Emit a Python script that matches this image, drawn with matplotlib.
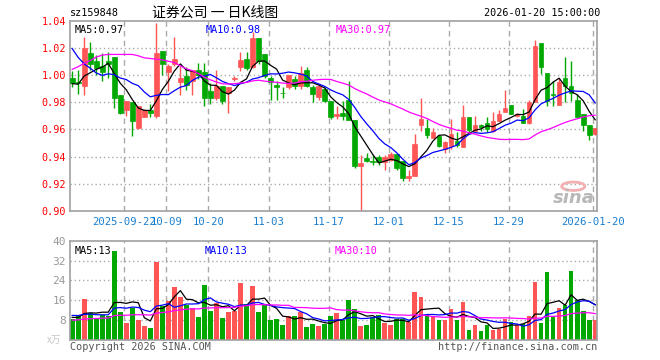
import pandas as pd
import matplotlib
matplotlib.use("Agg")
import matplotlib.pyplot as plt
from matplotlib.patches import Rectangle, Circle

# closes / volumes before the visible window, only used to seed the moving averages
prior_close = [0.934, 0.945, 0.948, 0.930, 0.957, 0.993, 0.983, 0.972, 0.981, 0.966,
               1.007, 1.019, 0.987, 1.031, 1.023, 1.037, 1.042, 1.073, 1.053, 1.049,
               1.060, 1.067, 1.040, 1.040, 1.020, 0.996, 0.990, 0.996, 0.9925]
prior_volume = [6.5, 7.0, 6.2, 5.8, 6.8, 7.5, 6.9, 7.2, 6.4, 7.8,
                7.1, 6.6, 8.2, 7.4, 6.9, 7.7, 7.0, 7.3, 6.8, 7.9,
                10.2, 11.5, 10.4, 11.0, 10.4, 9.8, 8.6, 9.5, 9.3]

opens = [0.998, 0.995, 0.992, 1.016, 1.010, 1.007, 1.010, 1.013, 0.985, 0.974,
         0.980, 0.961, 0.969, 0.974, 0.970, 1.018, 1.002, 1.008, 0.995, 0.999,
         0.996, 1.004, 1.002, 0.988, 0.983, 0.992, 0.9866, 0.997, 1.006, 1.012,
         1.006, 1.027, 1.0155, 0.998, 0.993, 0.987, 0.991, 0.997, 0.992, 1.004,
         0.991, 0.9835, 0.9895, 0.981, 0.970, 0.972, 0.982, 0.967, 0.933, 0.939,
         0.9365, 0.940, 0.936, 0.9375, 0.942, 0.937, 0.924, 0.926, 0.963, 0.961,
         0.9535, 0.9555, 0.9455, 0.948, 0.9515, 0.947, 0.9695, 0.9585, 0.963, 0.9645,
         0.9585, 0.966, 0.9725, 0.978, 0.970, 0.970, 0.9645, 0.980, 1.0235, 1.0017,
         0.986, 0.978, 0.998, 0.992, 0.982, 0.971, 0.963, 0.9565]
highs = [1.003, 1.004, 1.028, 1.024, 1.015, 1.016, 1.017, 1.013, 0.985, 0.981,
         0.980, 0.977, 0.975, 0.9785, 1.038, 1.018, 1.008, 1.028, 1.007, 1.006,
         1.004, 1.009, 1.009, 0.994, 1.004, 0.992, 0.991, 0.999, 1.017, 1.017,
         1.0315, 1.027, 1.0155, 0.999, 0.9955, 0.991, 1.000, 0.999, 1.007, 1.006,
         0.993, 0.993, 0.991, 0.981, 0.977, 0.981, 0.996, 0.967, 0.941, 0.943,
         0.941, 0.941, 0.941, 0.9435, 0.942, 0.937, 0.930, 0.9565, 0.983, 0.9675,
         0.961, 0.956, 0.9515, 0.9675, 0.958, 0.978, 0.9695, 0.970, 0.964, 0.969,
         0.973, 0.974, 0.989, 0.978, 0.972, 0.975, 0.982, 1.0255, 1.0235, 1.0017,
         0.996, 0.998, 1.0135, 1.010, 0.986, 0.971, 0.963, 0.961]
lows = [0.991, 0.986, 0.985, 1.004, 1.000, 0.996, 0.998, 0.976, 0.971, 0.970,
        0.955, 0.960, 0.969, 0.969, 0.9685, 1.000, 0.988, 1.007, 0.985, 0.989,
        0.985, 0.997, 0.977, 0.979, 0.982, 0.979, 0.972, 0.9955, 1.003, 1.004,
        1.005, 1.008, 0.998, 0.982, 0.982, 0.983, 0.9895, 0.9895, 0.9895, 0.991,
        0.980, 0.982, 0.980, 0.968, 0.968, 0.967, 0.967, 0.932, 0.900, 0.936,
        0.934, 0.934, 0.930, 0.937, 0.930, 0.922, 0.922, 0.926, 0.959, 0.9535,
        0.9535, 0.947, 0.943, 0.9455, 0.947, 0.947, 0.958, 0.958, 0.959, 0.958,
        0.958, 0.966, 0.9725, 0.971, 0.9695, 0.9645, 0.964, 0.980, 1.0005, 0.977,
        0.977, 0.978, 0.980, 0.981, 0.969, 0.959, 0.9525, 0.956]
closes = [0.994, 0.994, 1.020, 1.008, 1.005, 1.002, 1.008, 0.983, 0.972, 0.981,
          0.966, 0.977, 0.974, 0.972, 1.016, 1.008, 1.007, 1.012, 0.998, 0.993,
          1.004, 1.000, 0.983, 0.983, 0.992, 0.981, 0.991, 0.998, 1.011, 1.005,
          1.027, 1.010, 0.999, 0.995, 0.991, 0.9865, 1.000, 0.992, 1.0015, 0.992,
          0.986, 0.992, 0.981, 0.969, 0.971, 0.970, 0.967, 0.933, 0.935, 0.937,
          0.936, 0.936, 0.9395, 0.942, 0.932, 0.924, 0.926, 0.9495, 0.9675, 0.956,
          0.958, 0.9475, 0.951, 0.9565, 0.9485, 0.9695, 0.9595, 0.963, 0.9615, 0.960,
          0.966, 0.971, 0.9755, 0.9715, 0.9715, 0.965, 0.9805, 1.0215, 1.006, 0.981,
          0.985, 0.995, 0.992, 0.9865, 0.969, 0.963, 0.956, 0.961]
volumes = [8.3, 9.7, 16.5, 11.0, 8.7, 10.1, 9.7, 35.8, 11.4, 6.8,
           13.0, 8.1, 5.6, 4.8, 31.4, 13.8, 15.7, 21.3, 17.3, 14.1,
           12.9, 9.3, 22.1, 11.7, 15.0, 8.9, 11.4, 11.8, 22.9, 14.5,
           21.7, 11.4, 14.0, 8.2, 8.5, 6.0, 9.7, 9.7, 11.1, 5.2,
           6.4, 5.8, 6.4, 9.7, 10.7, 8.0, 16.3, 12.3, 5.5, 5.9,
           9.2, 9.9, 6.7, 5.9, 8.5, 8.5, 7.2, 19.2, 17.5, 9.9,
           9.6, 8.0, 8.0, 12.3, 8.0, 15.2, 3.9, 5.9, 3.5, 6.0,
           4.0, 4.5, 8.5, 7.2, 5.9, 6.5, 9.6, 23.2, 6.7, 27.2,
           9.3, 12.7, 14.3, 27.6, 16.0, 11.6, 8.0, 8.0]

tick_idx = [9, 16, 23, 33, 43, 53, 63, 73, 87]
tick_labels = ["2025-09-22", "10-09", "10-20", "11-03", "11-17",
               "12-01", "12-15", "12-29", "2026-01-20"]

RED = "#ff5555"
GREEN = "#00a800"
GRID = "#aaaaaa"
MONO = "DejaVu Sans Mono"

n = len(closes)
x = list(range(n))
pc = pd.Series(prior_close + closes)
pv = pd.Series(prior_volume + volumes)
k = len(prior_close)
ma = {w: pc.rolling(w).mean().iloc[k:].values for w in (5, 10, 30)}
vma = {w: pv.rolling(w).mean().iloc[k:].values for w in (5, 10, 30)}
ma_colors = {5: "black", 10: "#0000ff", 30: "#ff00ff"}

fig = plt.figure(figsize=(6.6, 3.6), dpi=100)
ax = fig.add_axes([70 / 660, 1 - 211 / 360, 527 / 660, 190.3 / 360])
axv = fig.add_axes([70 / 660, 1 - 340 / 360, 527 / 660, 99.3 / 360])

xlim = (-0.36, 87.3)
bw = 0.78
for a in (ax, axv):
    a.set_xlim(*xlim)
    for s in a.spines.values():
        s.set_color("#a0a0a0")
        s.set_linewidth(1.2)
    for t in tick_idx:
        a.axvline(t - 0.33, color=GRID, lw=1, ls=(0, (4, 3)), zorder=0)
    a.tick_params(length=0)

# price panel
ax.set_ylim(0.90, 1.04)
levels = [0.90, 0.92, 0.94, 0.96, 0.98, 1.00, 1.02, 1.04]
for lv in levels[1:-1]:
    ax.axhline(lv, color=GRID, lw=1, ls=(0, (1, 2)), zorder=0)
ax.set_yticks(levels)
ax.set_yticklabels([f"{v:.2f}" for v in levels], color="red", family=MONO, fontsize=7.3)
ax.tick_params(axis="y", pad=3)
ax.set_xticks([t - 0.33 for t in tick_idx])
ax.set_xticklabels(tick_labels, color="#1a7fd0", family=MONO, fontsize=7.6)
ax.tick_params(axis="x", pad=4)

for i in x:
    o, h, l, c = opens[i], highs[i], lows[i], closes[i]
    col = RED if c >= o else GREEN
    ax.vlines(i, l, h, color=col, lw=1, zorder=2)
    ax.add_patch(Rectangle((i - bw / 2, min(o, c)), bw, max(abs(c - o), 0.0004),
                           facecolor=col, edgecolor=col, lw=0.5, zorder=3))
for w in (5, 10, 30):
    ax.plot(x, ma[w], color=ma_colors[w], lw=0.9, zorder=4)

ax.text(5 / 527, 0.975, "MA5:0.97", transform=ax.transAxes, color="black",
        family=MONO, fontsize=7.3, va="top")
ax.text(136 / 527, 0.975, "MA10:0.98", transform=ax.transAxes, color="#0000ff",
        family=MONO, fontsize=7.3, va="top")
ax.text(266 / 527, 0.975, "MA30:0.97", transform=ax.transAxes, color="#ff00ff",
        family=MONO, fontsize=7.3, va="top")

# sina watermark
ax.add_patch(Circle((0.955, 0.13), 0.022, transform=ax.transAxes, fill=False,
                    edgecolor="#f3b0b0", lw=2, zorder=1))
ax.text(0.955, 0.07, "sina", transform=ax.transAxes, color="#b8b8b8",
        fontsize=13, fontweight="bold", style="italic", ha="center", va="center", zorder=1)

# volume panel
axv.set_ylim(0, 40)
for lv in (8, 16, 24, 32):
    axv.axhline(lv, color=GRID, lw=1, ls=(0, (1, 2)), zorder=0)
axv.set_yticks([8, 16, 24, 32, 40])
axv.set_yticklabels(["8", "16", "24", "32", "40"], color="#999999", family=MONO, fontsize=8)
axv.tick_params(axis="y", pad=3)
axv.set_xticks([])
vcols = [RED if closes[i] >= opens[i] else GREEN for i in x]
axv.bar(x, volumes, width=bw, color=vcols, zorder=2)
for w in (5, 10, 30):
    axv.plot(x, vma[w], color=ma_colors[w], lw=0.9, zorder=4)

axv.text(5 / 527, 0.95, "MA5:13", transform=axv.transAxes, color="black",
         family=MONO, fontsize=7.3, va="top")
axv.text(135 / 527, 0.95, "MA10:13", transform=axv.transAxes, color="#0000ff",
         family=MONO, fontsize=7.3, va="top")
axv.text(265 / 527, 0.95, "MA30:10", transform=axv.transAxes, color="#ff00ff",
         family=MONO, fontsize=7.3, va="top")

# header and footer
fig.text(70 / 660, 1 - 13 / 360, "sz159848", family=MONO, fontsize=7.3, va="center")
fig.text(152 / 660, 1 - 12.5 / 360, "证券公司 一 日K线图",
         family=["Noto Sans CJK SC", "DejaVu Sans"], fontsize=10, va="center")
fig.text(600 / 660, 1 - 13 / 360, "2026-01-20 15:00:00", family=MONO, fontsize=7.3,
         va="center", ha="right")
fig.text(47 / 660, 1 - 340 / 360, "x万", family=["Noto Sans CJK SC", "DejaVu Sans"],
         fontsize=7, color="#c8c8c8", va="center")
fig.text(70 / 660, 1 - 347 / 360, "Copyright 2026 SINA.COM", family=MONO, fontsize=7.3,
         color="#555555", va="center")
fig.text(597 / 660, 1 - 347 / 360, "http://finance.sina.com.cn", family=MONO, fontsize=7.3,
         color="#555555", va="center", ha="right")

fig.savefig("out.png", dpi=100)
